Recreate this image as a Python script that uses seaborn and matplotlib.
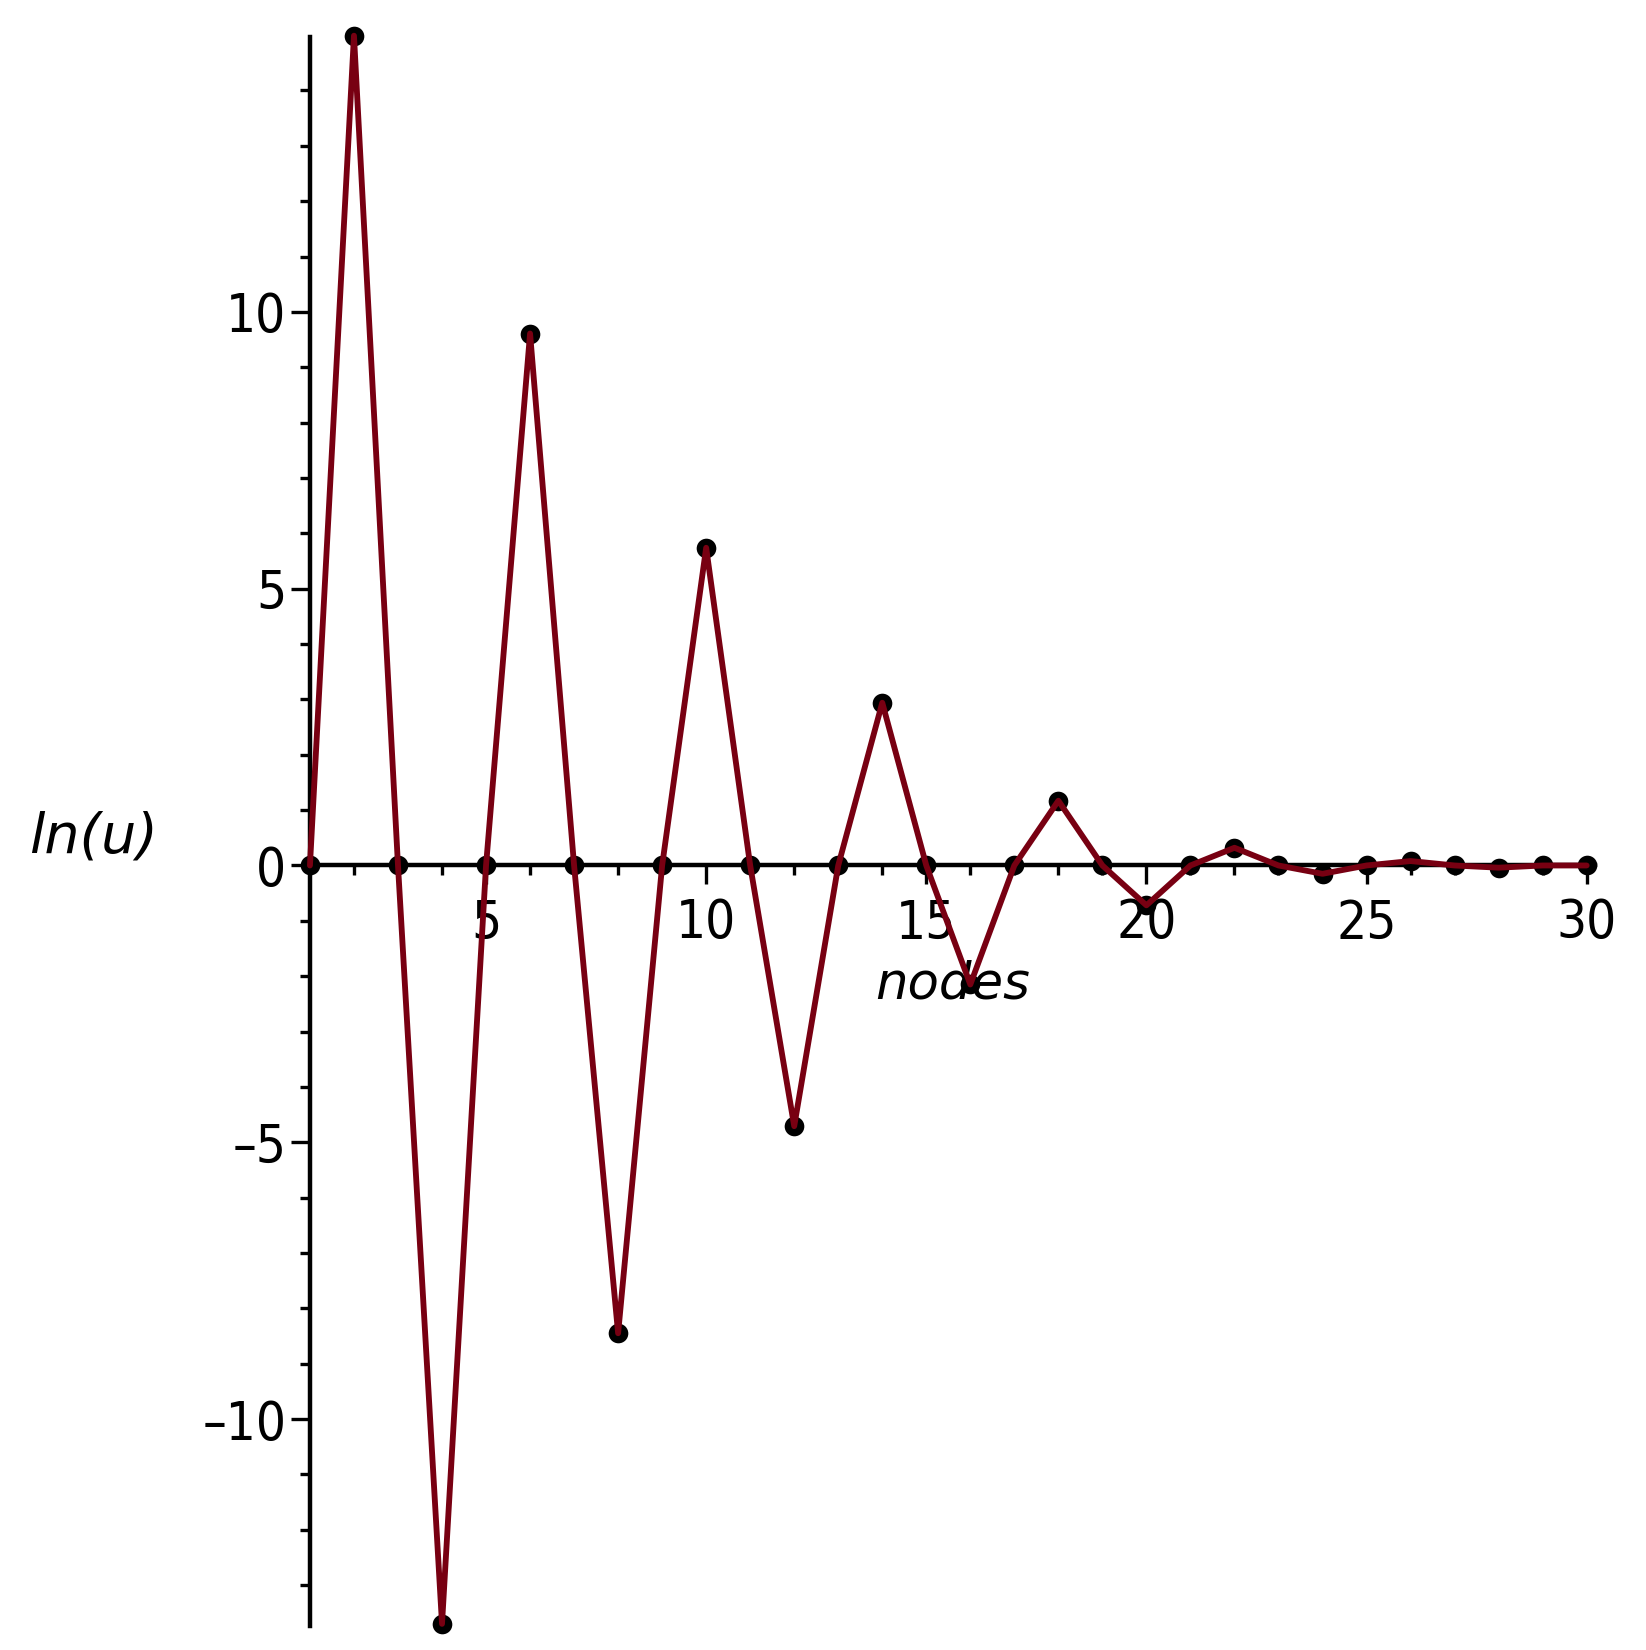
import matplotlib.pyplot as plt
import pandas as pd
import seaborn as sns
from matplotlib.ticker import MultipleLocator, FuncFormatter

# data
nodes = list(range(1, 31))
ln_u = [0, 14.99, 0, -13.70, 0, 9.61, 0, -8.45, 0, 5.74,
        0, -4.71, 0, 2.94, 0, -2.15, 0, 1.17, 0, -0.72,
        0, 0.32, 0, -0.15, 0, 0.08, 0, -0.04, 0, 0.0]

df = pd.DataFrame({'nodes': nodes, 'ln_u': ln_u})

sns.set_style('white')
plt.rcParams['font.family'] = ['DejaVu Sans']
plt.rcParams['font.stretch'] = 'condensed'

fig = plt.figure(figsize=(16.46, 16.50), dpi=100)
ax = fig.add_axes([0.1883, 0.0145, 0.781, 0.9632])

line_col = '#780012'
sns.scatterplot(data=df, x='nodes', y='ln_u', ax=ax, color='black', s=200,
                edgecolor='black', linewidth=0, zorder=3, clip_on=False, legend=False)
sns.lineplot(data=df, x='nodes', y='ln_u', ax=ax, color=line_col, linewidth=4.2,
             zorder=4, clip_on=False)

ax.set_xlim(1, 30.2)
ax.set_ylim(-13.74, 14.97)

# axes crossing at the origin, Maple style
ax.spines['left'].set_position(('data', 1))
ax.spines['bottom'].set_position(('data', 0))
ax.spines['top'].set_visible(False)
ax.spines['right'].set_visible(False)
for s in ['left', 'bottom']:
    ax.spines[s].set_linewidth(3.2)
    ax.spines[s].set_color('black')
    ax.spines[s].set_zorder(2)

ax.xaxis.set_major_locator(MultipleLocator(5))
ax.xaxis.set_minor_locator(MultipleLocator(1))
ax.yaxis.set_major_locator(MultipleLocator(5))
ax.yaxis.set_minor_locator(MultipleLocator(1))


def fmt(v, pos):
    v = int(round(v))
    if v < 0:
        return '\u2013' + str(abs(v))
    return str(v)


ax.yaxis.set_major_formatter(FuncFormatter(fmt))
ax.xaxis.set_major_formatter(FuncFormatter(fmt))

ax.tick_params(axis='both', which='both', bottom=True, left=True, top=False, right=False)
ax.tick_params(axis='both', which='major', length=14, width=2.4, labelsize=38,
               direction='out', color='black', labelcolor='black')
ax.tick_params(axis='both', which='minor', length=7, width=2.4, direction='out',
               color='black')
ax.tick_params(axis='x', which='major', pad=9)
ax.tick_params(axis='y', which='major', pad=3)

ax.set_xlabel('nodes', fontsize=37, fontstyle='italic', color='black',
              fontstretch='normal')
ax.xaxis.set_label_coords(0.5, 0.404)
ax.xaxis.label.set_va('center')
ax.set_ylabel('ln(u)', fontsize=40, fontstyle='italic', rotation=0, color='black',
              fontstretch='normal')
ax.yaxis.set_label_coords(-0.168, 0.4965)
ax.yaxis.label.set_va('center')
ax.yaxis.label.set_ha('center')

fig.savefig('out.png', dpi=100)
